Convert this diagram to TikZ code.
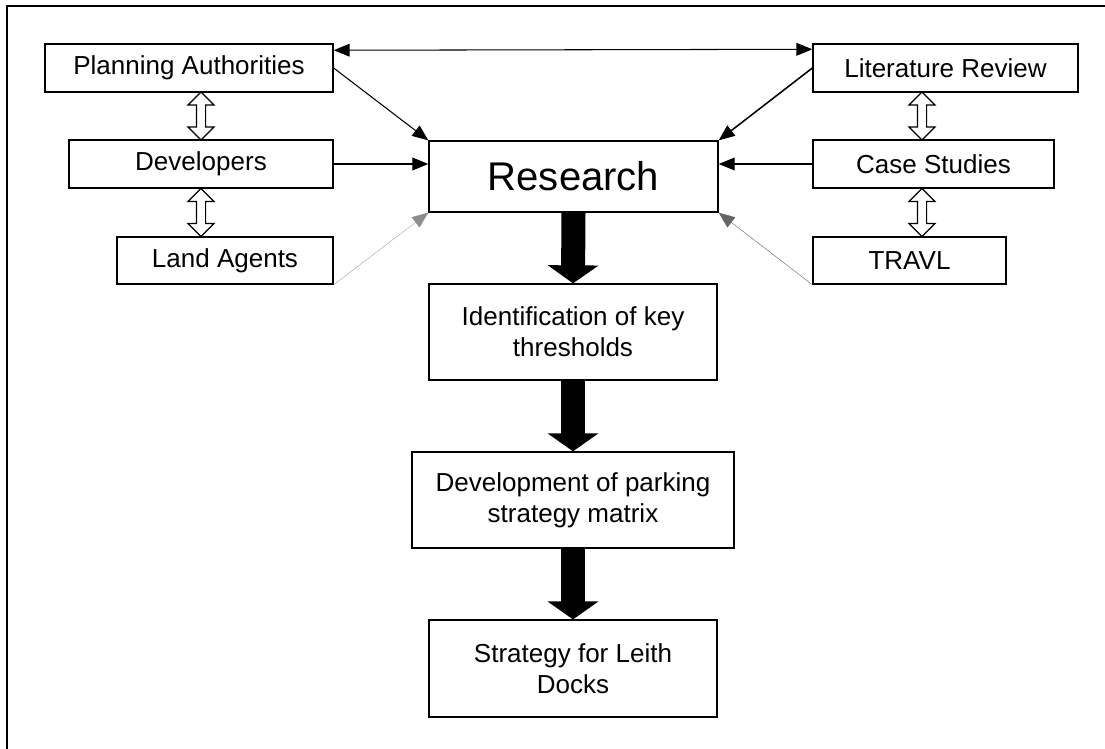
\documentclass[tikz,border=0pt]{standalone}
\usepackage{fontspec}
\setmainfont{Liberation Sans}
\usetikzlibrary{arrows.meta,shapes.arrows}

\begin{document}
\begin{tikzpicture}[x=0.025cm,y=-0.025cm,
  box/.style={draw,line width=0.9pt,align=center,inner sep=0pt,font=\fontsize{18.5}{22}\selectfont},
  link/.style={line width=0.75pt,-{Triangle[length=0.4cm,width=0.32cm]}},
  bigarrow/.style={line width=0.6cm,-{Triangle[length=0.45cm,width=1.25cm]}},
  twoway/.style={double arrow,draw,fill=white,line width=0.8pt,shape border rotate=90,
    minimum height=1.2cm,double arrow head extend=0.2125cm,inner sep=0.1cm}]
\useasboundingbox (0,0) rectangle (1105,749);
\draw[line width=1.4pt] (7,770)--(7,6)--(1120,6);
% left column
\node[box,minimum width=7.2cm,minimum height=1.2cm] (pa) at (189,68) {Planning Authorities};
\node[box,minimum width=6.6cm,minimum height=1.2cm] (dev) at (201,164) {Developers};
\node[box,minimum width=5.4cm,minimum height=1.18cm] (land) at (225,260.5) {Land Agents};
% right column
\node[box,minimum width=6.625cm,minimum height=1.2cm] (lit) at (945.5,68) {Literature Review};
\node[box,minimum width=6.025cm,minimum height=1.2cm] (cases) at (933.5,164) {Case Studies};
\node[box,minimum width=4.825cm,minimum height=1.18cm] (travl) at (909.5,260.5) {TRAVL};
% centre
\node[box,minimum width=7.225cm,minimum height=1.775cm,font=\fontsize{28.5}{32}\selectfont] (research) at (573.5,176.5) {Research};
\node[box,minimum width=7.2cm,minimum height=2.4cm] (ident) at (573,332) {Identification of key\\thresholds};
\node[box,minimum width=8.05cm,minimum height=2.4cm] (stratmatrix) at (573,500) {Development of parking\\strategy matrix};
\node[box,minimum width=7.2cm,minimum height=2.42cm] (leith) at (573,668.5) {Strategy for Leith\\Docks};
% two-way arrows
\node[twoway] at (201,116) {};
\node[twoway] at (201,212.5) {};
\node[twoway] at (922,116) {};
\node[twoway] at (922,212.5) {};
% links into research
\draw[link,{Triangle[length=0.4cm,width=0.32cm]}-{Triangle[length=0.4cm,width=0.32cm]}] (pa.7.5)--(lit.172);
\draw[link] (pa.east)--(research.north west);
\draw[link] (dev.east)--(research.west |- dev.east);
\draw[link,line width=0.2pt,draw=black!45] (land.south east)--(research.south west);
\draw[link,line width=1.1pt] (lit.west)--(research.north east);
\draw[link] (cases.west)--(research.east |- cases.west);
\draw[link,line width=0.3pt,draw=black!60] (travl.south west)--(research.south east);
% main flow
\draw[bigarrow] (research.south)--(ident.north);
\draw[bigarrow] (ident.south)--(stratmatrix.north);
\draw[bigarrow] (stratmatrix.south)--(leith.north);
\end{tikzpicture}
\end{document}
